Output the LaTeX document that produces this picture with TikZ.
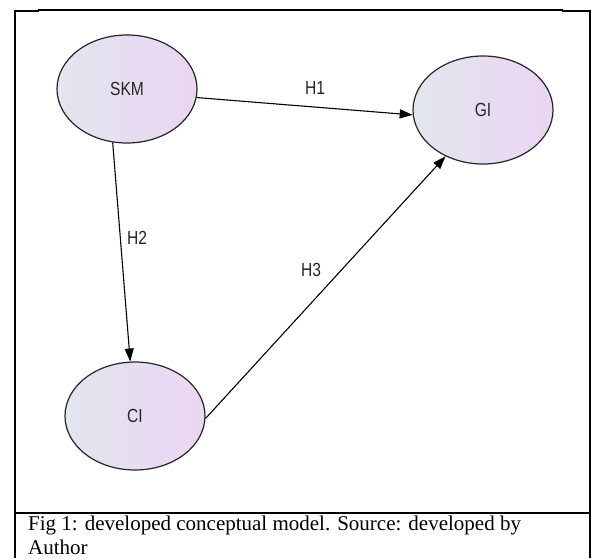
\documentclass[tikz,border=0pt]{standalone}
\usepackage{fontspec}
\setmainfont{Liberation Serif}
\newfontfamily\labelfont{Liberation Sans}
\usetikzlibrary{shapes.geometric,arrows.meta}

\tikzset{
  construct/.style={ellipse, draw=black!85, line width=1.2pt, inner sep=0pt,
    minimum width=140pt, minimum height=108pt,
    left color=cLeft, right color=cRight,
    font=\labelfont\fontsize{19}{19}\selectfont, text=black!85},
  path/.style={draw=black, line width=1.1pt,
    -{Triangle[length=13pt,width=9pt]}},
  hyp/.style={font=\labelfont\fontsize{19}{19}\selectfont, text=black!85, inner sep=0pt},
  frame/.style={draw=black, line width=2.3pt},
  rule/.style={draw=black, line width=1.1pt},
}
\definecolor{cLeft}{HTML}{E2E6EE}
\definecolor{cRight}{HTML}{EBD5F3}
\newcommand{\narrow}[1]{\scalebox{0.82}[1]{#1}}

\begin{document}
\begin{tikzpicture}[x=1pt, y=-1pt]
  \useasboundingbox (0,0) rectangle (593,558);
  \fill[white] (0,0) rectangle (593,558);

  % outer frame: thick sides and corners, thin top rule between them
  \draw[rule] (38,10) -- (563,10);
  \draw[frame] (15.2,558) -- (15.2,10.8) -- (39,10.8);
  \draw[frame] (562,10.8) -- (589.8,10.8) -- (589.8,558);
  % caption divider
  \draw[frame] (15,513) -- (590,513);

  % constructs
  \node[construct] (SKM) at (127,89)  {\narrow{SKM}};
  \node[construct] (GI)  at (483,110) {\narrow{GI}};
  \node[construct] (CI)  at (135,416) {\narrow{CI}};

  % hypothesised paths
  \draw[path] (SKM.-7)  -- (GI.184);
  \draw[path] (SKM.255) -- (CI.95);
  \draw[path] (CI.-2)   -- (GI.231);

  \node[hyp] (h1) at (315,88)  {\narrow{H1}};
  \node[hyp] (h2) at (137,238) {\narrow{H2}};
  \node[hyp] (h3) at (311,270) {\narrow{H3}};

  % caption
  \node[anchor=base west, inner sep=0pt, font=\fontsize{21}{24}\selectfont] (cap1) at (28,530)
    {Fig 1: developed conceptual model. Source: developed by};
  \node[anchor=base west, inner sep=0pt, font=\fontsize{21}{24}\selectfont] (cap2) at (28,554)
    {Author};
\end{tikzpicture}
\end{document}
